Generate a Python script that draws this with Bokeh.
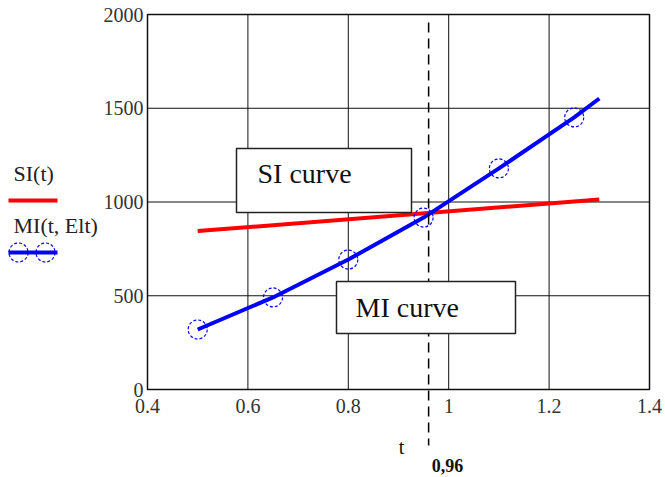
from bokeh.plotting import figure
from bokeh.models import Range1d, FixedTicker, BoxAnnotation, Label
from bokeh.embed import file_html
from bokeh.resources import INLINE

# ---- data ----
t_si = [0.5, 1.3]
si_values = [845, 1013]
t_mi = [0.5, 0.65, 0.8, 0.95, 1.1, 1.25]
mi_values = [320, 491, 693, 917, 1179, 1451]
t_mi_line = [0.5, 0.65, 0.8, 0.95, 1.1, 1.25, 1.3]
mi_line_values = [320, 491, 693, 917, 1179, 1451, 1552]
t_cross = 0.96
t_cross_label = "0,96"
x_ticks = [0.4, 0.6, 0.8, 1.0, 1.2, 1.4]
x_tick_labels = ["0.4", "0.6", "0.8", "1", "1.2", "1.4"]
y_ticks = [0, 500, 1000, 1500, 2000]
y_tick_labels = ["0", "500", "1000", "1500", "2000"]
legend_labels = ["SI(t)", "MI(t, Elt)"]
box_texts = ["SI curve", "MI curve"]
x_axis_title = "t"

# ---- layout (pixels) ----
W, H = 665, 477
FL, FR, FT, FB = 147, 649, 14, 389          # plotting area in pixels
X0, X1 = x_ticks[0], x_ticks[-1]
Y0, Y1 = y_ticks[0], y_ticks[-1]
XPP = (X1 - X0) / (FR - FL)
YPP = (Y1 - Y0) / (FB - FT)


def px_x(px):
    return X0 + (px - FL) * XPP


def px_y(py):
    return Y0 + (FB - py) * YPP


SERIF = "Liberation Serif"
RED = "#ff0000"
BLUE = "#0000ff"
INK = "#111111"

p = figure(width=W, height=H,
           x_range=Range1d(px_x(0), px_x(W)), y_range=Range1d(px_y(H), px_y(0)),
           output_backend="svg", toolbar_location=None, min_border=0)
p.background_fill_color = "white"
p.border_fill_color = "white"
p.outline_line_color = None
p.grid.visible = False

# axes placed on the plotting area's edges
p.xaxis.fixed_location = Y0
p.yaxis.fixed_location = X0
p.xaxis.bounds = (X0, X1)
p.yaxis.bounds = (Y0, Y1)
p.xaxis.ticker = FixedTicker(ticks=x_ticks)
p.yaxis.ticker = FixedTicker(ticks=y_ticks)
p.xaxis.major_label_overrides = dict(zip(x_ticks, x_tick_labels))
p.yaxis.major_label_overrides = dict(zip(y_ticks, y_tick_labels))
for ax in (p.xaxis, p.yaxis):
    ax.axis_line_color = None
    ax.major_tick_in = 0
    ax.major_tick_out = 0
    ax.minor_tick_line_color = None
    ax.major_label_text_font = SERIF
    ax.major_label_text_font_size = "20px"
    ax.major_label_text_color = "#333333"
p.xaxis.major_label_standoff = 9
p.yaxis.major_label_standoff = 4

# grid lines limited to the plotting area
p.segment(x0=x_ticks, y0=[Y0] * len(x_ticks), x1=x_ticks, y1=[Y1] * len(x_ticks),
          line_color=INK, line_width=1)
p.segment(x0=[X0] * len(y_ticks), y0=y_ticks, x1=[X1] * len(y_ticks), y1=y_ticks,
          line_color=INK, line_width=1)
p.add_layout(BoxAnnotation(left=X0, right=X1, bottom=Y0, top=Y1, fill_alpha=0.0,
                           line_color=INK, line_alpha=1.0, line_width=1.5,
                           level="underlay"))

# ---- data marks ----
p.line(t_si, si_values, line_color=RED, line_width=4)
p.line(t_mi_line, mi_line_values, line_color=BLUE, line_width=4)
p.scatter(t_mi, mi_values, marker="circle", size=19, fill_color=None,
          line_color=BLUE, line_width=1.2, line_dash="3 2")

# ---- dashed marker line at the crossing ----
p.segment(x0=[t_cross], y0=[px_y(22)], x1=[t_cross], y1=[px_y(445)],
          line_color="black", line_width=1.5, line_dash="10 6")

# ---- text boxes ----
p.add_layout(BoxAnnotation(left=px_x(236), right=px_x(411), top=px_y(148), bottom=px_y(212),
                           fill_color="white", fill_alpha=1.0,
                           line_color="#222222", line_alpha=1.0, line_width=1.5))
p.add_layout(BoxAnnotation(left=px_x(336), right=px_x(515), top=px_y(281), bottom=px_y(333),
                           fill_color="white", fill_alpha=1.0,
                           line_color="#222222", line_alpha=1.0, line_width=1.5))
p.add_layout(Label(x=px_x(257), y=px_y(173), text=box_texts[0], text_font=SERIF,
                   text_font_size="28px", text_color=INK,
                   text_align="left", text_baseline="alphabetic"))
p.add_layout(Label(x=px_x(355), y=px_y(307), text=box_texts[1], text_font=SERIF,
                   text_font_size="28px", text_color=INK,
                   text_align="left", text_baseline="alphabetic"))

# ---- axis annotations ----
p.add_layout(Label(x=px_x(401), y=px_y(446), text=x_axis_title, text_font=SERIF,
                   text_font_size="20px", text_color=INK,
                   text_align="center", text_baseline="middle"))
p.add_layout(Label(x=t_cross, x_offset=19, y=px_y(465), text=t_cross_label,
                   text_font=SERIF, text_font_style="bold",
                   text_font_size="18px", text_color=INK,
                   text_align="center", text_baseline="middle"))

# ---- legend on the left ----
p.add_layout(Label(x=px_x(13), y=px_y(173), text=legend_labels[0], text_font=SERIF,
                   text_font_size="22px", text_color="#222222",
                   text_align="left", text_baseline="alphabetic"))
p.add_layout(Label(x=px_x(13), y=px_y(225), text=legend_labels[1], text_font=SERIF,
                   text_font_size="22px", text_color="#222222",
                   text_align="left", text_baseline="alphabetic"))
p.line([px_x(8), px_x(57)], [px_y(200), px_y(200)], line_color=RED, line_width=4)
p.line([px_x(8), px_x(57)], [px_y(252), px_y(252)], line_color=BLUE, line_width=4)
p.scatter([px_x(18), px_x(45)], [px_y(252), px_y(252)], marker="circle", size=19,
          fill_color=None, line_color=BLUE, line_width=1.2, line_dash="3 2")

open("out.html", "w").write(file_html(p, INLINE))
